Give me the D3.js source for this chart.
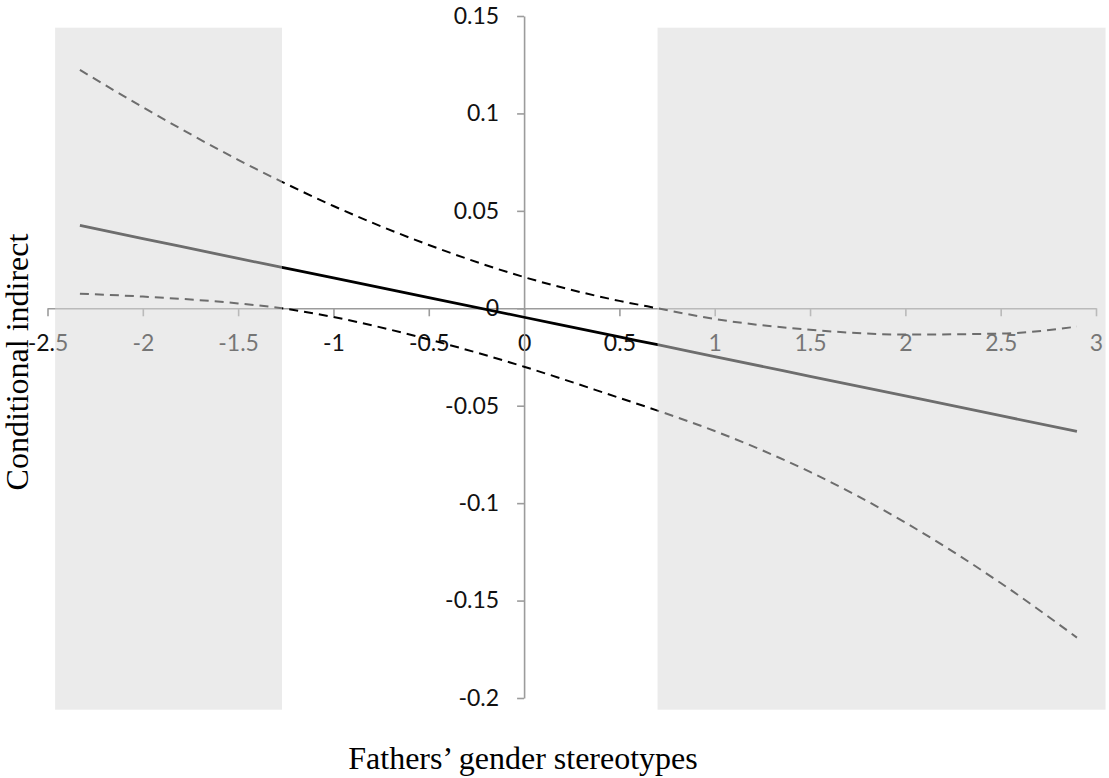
<!DOCTYPE html>
<html>
<head>
<meta charset="utf-8">
<script src="https://cdn.jsdelivr.net/npm/d3@7"></script>
<style>
  body { margin: 0; background: #fff; }
  svg { display: block; }
</style>
</head>
<body>
<svg id="chart"></svg>
<script>
'use strict'

// moderator values (x) and the three curves
const xValues  = [-2.33, -2, -1.5, -1.27, -1, -0.5, 0, 0.5, 0.7, 1, 1.5, 2, 2.5, 2.9];
const effect   = [0.0425, 0.0358, 0.0256, 0.021, 0.0156, 0.0055, -0.0046, -0.0147, -0.0187, -0.0248, -0.0349, -0.045, -0.0551, -0.0632];
const upperCI  = [0.1223, 0.1032, 0.0762, 0.0649, 0.0525, 0.0325, 0.016, 0.0038, 0, -0.0055, -0.011, -0.0135, -0.013, -0.0094];
const lowerCI  = [0.0075, 0.006, 0.0025, 0, -0.0045, -0.016, -0.03, -0.046, -0.0525, -0.063, -0.084, -0.110, -0.141, -0.169];

// regions of significance (shaded)
const regionStart = [-2.46, 0.70];
const regionEnd   = [-1.27, 3.05];
const regionTop = 0.144, regionBottom = -0.206;

const xTicks = [-2.5, -2, -1.5, -1, -0.5, 0, 0.5, 1, 1.5, 2, 2.5, 3];
const yTicks = [-0.2, -0.15, -0.1, -0.05, 0, 0.05, 0.1, 0.15];

const xTitle = 'Fathers’ gender stereotypes';
const yTitle = 'Conditional indirect';

const width = 1109, height = 778;

const svg = d3.select('#chart')
	.attr('width', width)
	.attr('height', height);

const x = d3.scaleLinear().domain([-2.5, 3]).range([47.5, 1096]);
const y = d3.scaleLinear().domain([-0.2, 0.15]).range([698, 16]);

const axisColor = '#9c9c9c';

// x axis through y = 0
const gx = svg.append('g')
	.attr('transform', `translate(0,${y(0)})`)
	.call(d3.axisBottom(x).tickValues(xTicks).tickSize(8).tickSizeOuter(0)
		.tickFormat(d => String(d)));
gx.selectAll('text').attr('y', 43).attr('dy', null);

// y axis through x = 0
const gy = svg.append('g')
	.attr('transform', `translate(${x(0)},0)`)
	.call(d3.axisLeft(y).tickValues(yTicks).tickSize(7).tickSizeOuter(0).tickPadding(18)
		.tickFormat(d => String(d)));

svg.selectAll('.domain, .tick line')
	.attr('stroke', axisColor)
	.attr('stroke-width', 1.6);
svg.selectAll('.tick text')
	.attr('fill', '#111')
	.style('font-family', 'Lato, "Open Sans", sans-serif')
	.style('font-size', '23px');

// curves
const pts = vals => xValues.map((xv, i) => [xv, vals[i]]);
const line = d3.line()
	.x(d => x(d[0]))
	.y(d => y(d[1]))
	.curve(d3.curveMonotoneX);

svg.append('path')
	.attr('d', line(pts(upperCI)))
	.attr('fill', 'none')
	.attr('stroke', '#000')
	.attr('stroke-width', 2)
	.attr('stroke-dasharray', '9,6');

svg.append('path')
	.attr('d', line(pts(lowerCI)))
	.attr('fill', 'none')
	.attr('stroke', '#000')
	.attr('stroke-width', 2)
	.attr('stroke-dasharray', '9,6');

svg.append('path')
	.attr('d', line(pts(effect)))
	.attr('fill', 'none')
	.attr('stroke', '#000')
	.attr('stroke-width', 2.8);

// translucent shading laid over everything
svg.selectAll('rect.region')
	.data(regionStart)
	.enter().append('rect')
	.attr('class', 'region')
	.attr('x', d => x(d))
	.attr('width', (d, i) => x(regionEnd[i]) - x(d))
	.attr('y', y(regionTop))
	.attr('height', y(regionBottom) - y(regionTop))
	.attr('fill', 'rgb(215,215,215)')
	.attr('fill-opacity', 0.506);

// axis titles
svg.append('text')
	.attr('x', 523)
	.attr('y', 769)
	.attr('text-anchor', 'middle')
	.style('font-family', '"Liberation Serif", "Times New Roman", serif')
	.style('font-size', '32px')
	.text(xTitle);

svg.append('text')
	.attr('transform', 'translate(28,362) rotate(-90)')
	.attr('text-anchor', 'middle')
	.style('font-family', '"Liberation Serif", "Times New Roman", serif')
	.style('font-size', '32px')
	.text(yTitle);
</script>
</body>
</html>
